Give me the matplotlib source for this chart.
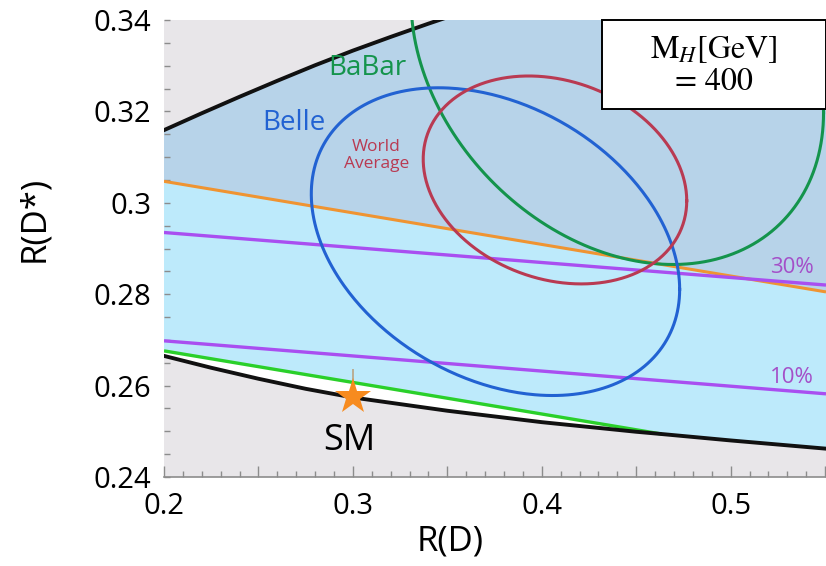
import numpy as np
import matplotlib
matplotlib.use("Agg")
import matplotlib.pyplot as plt
from matplotlib.patches import Rectangle
from matplotlib.ticker import FixedLocator, MultipleLocator, FuncFormatter

plt.rcParams['font.family'] = ['Open Sans', 'DejaVu Sans']
plt.rcParams['mathtext.fontset'] = 'stix'

# ---- data -------------------------------------------------------------
# upper allowed-region boundary (black, top-left)
upper_x = [0.20, 0.22, 0.24, 0.26, 0.28, 0.30, 0.32, 0.34, 0.36]
upper_y = [0.3159, 0.3196, 0.3232, 0.3267, 0.3301, 0.3333, 0.3363, 0.3392, 0.3420]

# lower allowed-region boundary (black, bottom)
lower_x = [0.20, 0.225, 0.25, 0.275, 0.30, 0.35, 0.40, 0.45, 0.4635, 0.50, 0.5505]
lower_y = [0.2665, 0.2639, 0.2615, 0.2593, 0.2574, 0.2545, 0.2520, 0.2499, 0.2494,
           0.2480, 0.2462]

# green boundary (left part of the lower edge)
green_x = [0.200, 0.4635]
green_y = [0.2676, 0.2494]

# orange boundary between the two shaded regions
orange_x = [0.200, 0.5505]
orange_y = [0.3047, 0.2805]

# contribution contours (purple)
pct_labels = ['30%', '10%']
pct_x = [0.200, 0.5505]
pct_y = {'30%': [0.2935, 0.2820], '10%': [0.2698, 0.2582]}

# measurements: centre R(D), centre R(D*), sigma R(D), sigma R(D*), correlation
meas_names = ['BaBar', 'Belle', 'World Average']
meas_rd = [0.440, 0.3755, 0.407]
meas_rds = [0.332, 0.2915, 0.305]
meas_srd = [0.072, 0.0643, 0.046]
meas_srds = [0.030, 0.0222, 0.015]
meas_rho = [-0.27, -0.31, -0.20]
meas_colors = ['#14944c', '#2262d2', '#b93a52']
contour_k = np.sqrt(2.30)   # 68% CL for two parameters

# Standard Model point
sm_rd, sm_rds = 0.300, 0.2574

# ---- figure -----------------------------------------------------------
W, H = 826, 566
fig = plt.figure(figsize=(W / 100, H / 100), dpi=100)
ax = fig.add_axes([164 / W, (H - 477) / H, 662 / W, 457 / H])
xmin, xmax, ymin, ymax = 0.200, 0.5505, 0.240, 0.340
ax.set_xlim(xmin, xmax)
ax.set_ylim(ymin, ymax)
ax.set_facecolor('#e8e6e9')

steel = '#b7d3e9'
cyan = '#bdeafb'

# steel-blue region: below the upper curve, above the orange line
sx = list(upper_x) + [xmax + 0.01, xmax + 0.01] + list(orange_x[::-1])
sy = list(upper_y) + [0.345, orange_y[-1]] + list(orange_y[::-1])
ax.fill(sx, sy, color=steel, lw=0, zorder=1)

# cyan region: below the orange line, above green (left) / black (right)
lx_r = [x for x in lower_x if x >= green_x[-1]]
ly_r = [y for x, y in zip(lower_x, lower_y) if x >= green_x[-1]]
cx_ = list(orange_x) + lx_r[::-1] + list(green_x[::-1])
cy_ = list(orange_y) + ly_r[::-1] + list(green_y[::-1])
ax.fill(cx_, cy_, color=cyan, lw=0, zorder=1)

# white sliver between green line and lower black curve
lx_l = [x for x in lower_x if x <= green_x[-1]]
ly_l = [y for x, y in zip(lower_x, lower_y) if x <= green_x[-1]]
ax.fill(list(green_x) + lx_l[::-1], list(green_y) + ly_l[::-1],
        color='white', lw=0, zorder=1)

# boundary lines
ax.plot(orange_x, orange_y, color='#ef9432', lw=2.2, zorder=3, solid_capstyle='butt')
for lab in pct_labels:
    ax.plot(pct_x, pct_y[lab], color='#a94ff0', lw=2.4, zorder=3, solid_capstyle='butt')
ax.plot(green_x, green_y, color='#2ad02a', lw=2.4, zorder=3, solid_capstyle='butt')
ax.plot(upper_x, upper_y, color='#111111', lw=2.8, zorder=4)
ax.plot(lower_x, lower_y, color='#111111', lw=2.8, zorder=4)

# measurement contours
t = np.linspace(0, 2 * np.pi, 400)
for name, mx, my, sxx, syy, rho, col in zip(meas_names, meas_rd, meas_rds,
                                           meas_srd, meas_srds, meas_rho, meas_colors):
    ex = mx + contour_k * sxx * np.cos(t)
    ey = my + contour_k * syy * (rho * np.cos(t) + np.sqrt(1 - rho ** 2) * np.sin(t))
    ax.plot(ex, ey, color=col, lw=2.2, zorder=5)

# experiment labels
ax.text(0.3074, 0.3296, 'BaBar', color=meas_colors[0], fontsize=20,
        ha='center', va='center', zorder=6)
ax.text(0.2688, 0.3175, 'Belle', color=meas_colors[1], fontsize=20,
        ha='center', va='center', zorder=6)
ax.text(0.3125, 0.3103, 'World\nAverage', color=meas_colors[2], fontsize=12.5,
        ha='center', va='center', linespacing=1.05, zorder=6)

# contribution labels
for lab, yy in zip(pct_labels, [0.2858, 0.2618]):
    ax.text(0.5325, yy, lab, color='#a44fc8', fontsize=16,
            ha='center', va='center', zorder=6)

# Standard Model
ax.plot([sm_rd, sm_rd], [sm_rds + 0.002, sm_rds + 0.0062], color='#b89063', lw=1.1,
        alpha=0.85, zorder=6, solid_capstyle='butt')
ax.plot([sm_rd], [sm_rds], marker='*', color='#f78b1f', markersize=27,
        markeredgewidth=0, zorder=7)
ax.text(sm_rd - 0.002, 0.2478, 'SM', color='black', fontsize=26,
        ha='center', va='center', zorder=7)

# mass box
ax.add_patch(Rectangle((0.661, 0.805), 0.339, 0.195, transform=ax.transAxes,
                       facecolor='white', edgecolor='black', lw=1.4,
                       zorder=8, clip_on=False))
ax.text(0.8305, 0.9005, r'$\mathrm{M}_{H}[\mathrm{GeV}]$' + '\n= 400',
        transform=ax.transAxes, ha='center', va='center', family='STIXGeneral',
        fontsize=23, linespacing=1.12, zorder=9)

# axes styling
for s in ['top', 'right', 'left']:
    ax.spines[s].set_visible(False)
ax.spines['bottom'].set_color('#8c8c8c')
ax.spines['bottom'].set_linewidth(1.2)
ax.spines['bottom'].set_zorder(10)

xticks_major = [0.20, 0.25, 0.30, 0.35, 0.40, 0.45, 0.50, 0.55]
xtick_labels = {0.20: '0.2', 0.30: '0.3', 0.40: '0.4', 0.50: '0.5'}
ax.xaxis.set_major_locator(FixedLocator(xticks_major))
ax.xaxis.set_major_formatter(FuncFormatter(
    lambda v, p: xtick_labels.get(round(v, 2), '')))
ax.xaxis.set_minor_locator(MultipleLocator(0.01))
ytick_labels = {0.24: '0.24', 0.26: '0.26', 0.28: '0.28', 0.30: '0.3',
                0.32: '0.32', 0.34: '0.34'}
ax.yaxis.set_major_locator(FixedLocator(list(ytick_labels)))
ax.yaxis.set_major_formatter(FuncFormatter(
    lambda v, p: ytick_labels.get(round(v, 2), '')))
ax.yaxis.set_minor_locator(MultipleLocator(0.005))

ax.tick_params(axis='x', which='major', direction='in', length=8, width=1,
               color='#8c8c8c', labelsize=21, pad=11)
ax.tick_params(axis='x', which='minor', direction='in', length=4, width=1,
               color='#8c8c8c')
ax.tick_params(axis='y', which='both', direction='in', length=4, width=1,
               color='#8c8c8c', labelsize=21, pad=9)

ax.set_xlabel('R(D)', fontsize=25)
ax.xaxis.set_label_coords(0.432, -0.105)
ax.set_ylabel('R(D*)', fontsize=25)
ax.yaxis.set_label_coords(-0.17, 0.565)

fig.savefig('out.png', dpi=100)
